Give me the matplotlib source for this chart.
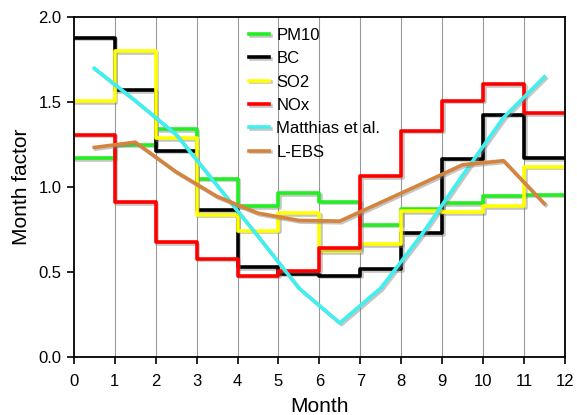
import matplotlib
matplotlib.use('Agg')
import matplotlib.pyplot as plt
import matplotlib.patheffects as pe
import numpy as np

plt.rcParams['font.family'] = ['Liberation Sans', 'DejaVu Sans']

# ------------------------------------------------------------------
#  Data (monthly factors, month bins 0..12)
# ------------------------------------------------------------------
month_edges = np.arange(13)
month_mid = np.arange(12) + 0.5

pm10 = [1.17, 1.25, 1.34, 1.05, 0.89, 0.965, 0.915, 0.78, 0.87, 0.905, 0.95, 0.955]
bc = [1.88, 1.57, 1.215, 0.865, 0.53, 0.49, 0.478, 0.517, 0.73, 1.167, 1.427, 1.17]
so2 = [1.505, 1.80, 1.29, 0.837, 0.743, 0.845, 0.621, 0.666, 0.857, 0.852, 0.89, 1.12]
nox = [1.31, 0.91, 0.674, 0.578, 0.478, 0.509, 0.641, 1.063, 1.333, 1.509, 1.608, 1.437]
matthias = [1.70, 1.51, 1.31, 1.01, 0.71, 0.405, 0.20, 0.405, 0.72, 1.07, 1.41, 1.65]
lebs = [1.234, 1.265, 1.09, 0.945, 0.847, 0.804, 0.80, 0.91, 1.02, 1.132, 1.156, 0.902]

step_series = [
    ('PM10', pm10, '#22ee22'),
    ('BC', bc, '#000000'),
    ('SO2', so2, '#ffff00'),
    ('NOx', nox, '#ff0000'),
]
curve_series = [
    ('Matthias et al.', matthias, '#3ff0f0'),
    ('L-EBS', lebs, '#d4843c'),
]

shadow = [pe.SimpleLineShadow(offset=(1.2, -1.2), shadow_color='gray', alpha=0.45),
          pe.Normal()]

fig = plt.figure(figsize=(5.77, 4.15), dpi=100)
ax = fig.add_axes([0.128, 0.140, 0.851, 0.818])

for x in range(1, 12):
    ax.axvline(x, color='#999999', linewidth=0.8, zorder=0)

for label, vals, color in step_series:
    ax.step(month_edges, np.append(vals, vals[-1]), where='post',
            color=color, linewidth=2.6, label=label, path_effects=shadow)

for label, vals, color in curve_series:
    ax.plot(month_mid, vals, color=color, linewidth=2.6, label=label,
            path_effects=shadow)

ax.set_xlim(0, 12)
ax.set_ylim(0, 2.0)
ax.set_xticks(range(13))
ax.set_yticks([0.0, 0.5, 1.0, 1.5, 2.0])
ax.set_yticklabels(['0.0', '0.5', '1.0', '1.5', '2.0'])
ax.tick_params(labelsize=12, length=5, width=1.2, direction='out', pad=4)
ax.tick_params(axis='x', pad=7)
for s in ax.spines.values():
    s.set_linewidth(1.3)

ax.set_xlabel('Month', fontsize=15, labelpad=6)
ax.set_ylabel('Month factor', fontsize=15, labelpad=5)

ax.legend(loc='upper left', bbox_to_anchor=(249 / 577, 1 - 28 / 415),
          bbox_transform=fig.transFigure, frameon=False, fontsize=12,
          handlelength=1.2, handletextpad=0.45, labelspacing=0.5,
          borderpad=0, borderaxespad=0)

fig.savefig('out.png', dpi=100)
